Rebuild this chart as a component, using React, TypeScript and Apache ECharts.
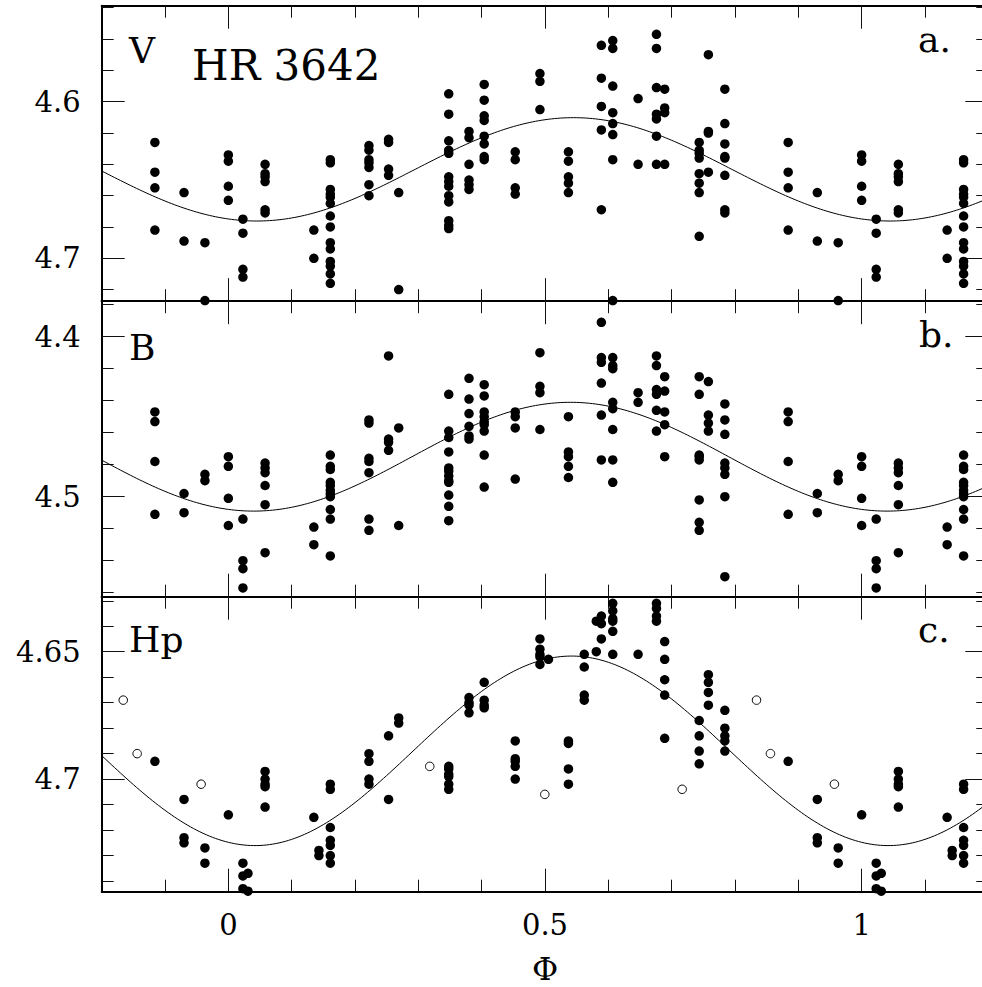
import React, { useEffect, useRef } from "react";
import * as echarts from "echarts";

// ---------------- data ----------------
// Phase columns (base phase in [0,1)) and magnitudes per column.
const vPhases = [0.0, 0.023, 0.058, 0.135, 0.161, 0.222, 0.253, 0.269, 0.348, 0.38, 0.404, 0.453, 0.492, 0.537, 0.589, 0.607, 0.647, 0.676, 0.689, 0.7435, 0.758, 0.784, 0.884, 0.93, 0.963];
const vMags = [
  [4.634, 4.638, 4.654, 4.663],
  [4.675, 4.684, 4.707, 4.712],
  [4.64, 4.646, 4.648, 4.651, 4.669, 4.671],
  [4.682, 4.7],
  [4.637, 4.639, 4.656, 4.659, 4.661, 4.665, 4.673, 4.68, 4.69, 4.694, 4.702, 4.705, 4.71, 4.716],
  [4.628, 4.631, 4.637, 4.639, 4.642, 4.653, 4.66],
  [4.624, 4.626, 4.643, 4.647],
  [4.658, 4.72],
  [4.595, 4.608, 4.625, 4.631, 4.633, 4.648, 4.651, 4.654, 4.66, 4.664, 4.676, 4.679, 4.681],
  [4.619, 4.623, 4.64, 4.65, 4.653, 4.656],
  [4.589, 4.599, 4.609, 4.612, 4.622, 4.627, 4.635, 4.637],
  [4.632, 4.637, 4.655, 4.659],
  [4.582, 4.587, 4.605],
  [4.632, 4.638, 4.648, 4.652, 4.658],
  [4.564, 4.585, 4.603, 4.618, 4.669],
  [4.561, 4.566, 4.59, 4.607, 4.614, 4.621, 4.637, 4.727],
  [4.598, 4.64],
  [4.557, 4.566, 4.591, 4.608, 4.611, 4.622, 4.64],
  [4.592, 4.604, 4.607, 4.64],
  [4.626, 4.631, 4.633, 4.636, 4.646, 4.652, 4.658, 4.686],
  [4.57, 4.619, 4.62, 4.645],
  [4.592, 4.614, 4.627, 4.635, 4.636, 4.647, 4.669, 4.671],
  [4.626, 4.645, 4.655, 4.682],
  [4.658, 4.689],
  [4.69, 4.727],
];

const bPhases = [0.0, 0.023, 0.058, 0.135, 0.161, 0.222, 0.253, 0.269, 0.348, 0.38, 0.404, 0.453, 0.492, 0.537, 0.589, 0.607, 0.647, 0.676, 0.689, 0.7435, 0.758, 0.784, 0.884, 0.93, 0.963];
const bMags = [
  [4.475, 4.481, 4.501, 4.518],
  [4.514, 4.54, 4.545, 4.557],
  [4.479, 4.482, 4.485, 4.493, 4.505, 4.535],
  [4.519, 4.53],
  [4.474, 4.481, 4.483, 4.491, 4.493, 4.496, 4.498, 4.5, 4.508, 4.514, 4.537],
  [4.452, 4.454, 4.476, 4.478, 4.485, 4.514, 4.521],
  [4.412, 4.464, 4.466, 4.471],
  [4.457, 4.518],
  [4.436, 4.459, 4.463, 4.472, 4.482, 4.484, 4.487, 4.49, 4.491, 4.499, 4.506, 4.515],
  [4.426, 4.439, 4.448, 4.456, 4.462, 4.464],
  [4.43, 4.437, 4.447, 4.45, 4.453, 4.455, 4.459, 4.474, 4.494],
  [4.447, 4.45, 4.457, 4.489],
  [4.41, 4.431, 4.435, 4.458],
  [4.45, 4.472, 4.475, 4.481, 4.488],
  [4.391, 4.413, 4.416, 4.429, 4.449, 4.477],
  [4.413, 4.418, 4.42, 4.441, 4.445, 4.458, 4.477, 4.491],
  [4.435, 4.441],
  [4.412, 4.418, 4.433, 4.436, 4.446, 4.459],
  [4.425, 4.434, 4.447, 4.455, 4.475],
  [4.425, 4.436, 4.474, 4.475, 4.477, 4.502, 4.516, 4.521],
  [4.428, 4.449, 4.454, 4.459],
  [4.442, 4.452, 4.461, 4.479, 4.482, 4.486, 4.5, 4.55],
  [4.447, 4.453, 4.478, 4.511],
  [4.498, 4.51],
  [4.486, 4.49],
];

const hpPhases = [0.0, 0.023, 0.031, 0.058, 0.135, 0.143, 0.161, 0.222, 0.253, 0.269, 0.348, 0.38, 0.404, 0.453, 0.492, 0.5055, 0.537, 0.562, 0.581, 0.589, 0.607, 0.647, 0.676, 0.689, 0.7435, 0.758, 0.784, 0.884, 0.93, 0.963];
const hpMags = [
  [4.714],
  [4.733, 4.738, 4.743],
  [4.737, 4.744],
  [4.697, 4.7, 4.702, 4.703, 4.711],
  [4.715],
  [4.728, 4.73],
  [4.702, 4.704, 4.719, 4.724, 4.726, 4.73, 4.733],
  [4.69, 4.693, 4.7, 4.702],
  [4.683, 4.708],
  [4.676, 4.678],
  [4.695, 4.696, 4.698, 4.699, 4.702, 4.704],
  [4.668, 4.67, 4.671, 4.674],
  [4.662, 4.669, 4.671, 4.672],
  [4.685, 4.692, 4.693, 4.695, 4.7],
  [4.645, 4.649, 4.651, 4.652, 4.655],
  [4.653],
  [4.685, 4.686, 4.696, 4.702],
  [4.651, 4.656, 4.667, 4.669],
  [4.638, 4.65],
  [4.636, 4.639, 4.645],
  [4.631, 4.634, 4.637, 4.638, 4.642, 4.651],
  [4.651],
  [4.631, 4.633, 4.636, 4.638],
  [4.646, 4.653, 4.661, 4.667, 4.684],
  [4.677, 4.683, 4.689, 4.694],
  [4.659, 4.662, 4.666, 4.671],
  [4.673, 4.68, 4.683, 4.685, 4.689],
  [4.693],
  [4.708, 4.723, 4.725],
  [4.727, 4.733],
];

// open circles (Hp panel)
const hpOpenPhases = [0.318, 0.4997, 0.7166, 0.834, 0.856, 0.957];
const hpOpenMags = [4.695, 4.706, 4.704, 4.669, 4.69, 4.702];

// fitted sinusoids: mean, semi-amplitude, phase of faintest point (V, B, Hp)
const fitMean = [4.6432, 4.475, 4.6889];
const fitAmp = [0.033, 0.034, 0.0372];
const fitMinPhase = [0.045, 0.04, 0.042];

// axes
const phaseRange = [-0.2, 1.2];
const xMinorTicks = [-0.1, 0.1, 0.2, 0.3, 0.4, 0.6, 0.7, 0.8, 0.9, 1.1];
const xMajorTicks = [0, 0.5, 1];
const yRanges = [
  [4.5387, 4.7274],
  [4.3778, 4.5625],
  [4.6284, 4.7442],
];
const yMinorTicks = [
  [4.54, 4.56, 4.58, 4.62, 4.64, 4.66, 4.68, 4.72],
  [4.38, 4.42, 4.44, 4.46, 4.48, 4.52, 4.54, 4.56],
  [4.63, 4.64, 4.66, 4.67, 4.68, 4.69, 4.71, 4.72, 4.73, 4.74],
];
const yMajorTicks = [
  [4.6, 4.7],
  [4.4, 4.5],
  [4.65, 4.7],
];
const bandLabels = ["V", "B", "Hp"];
const panelLetters = ["a.", "b.", "c."];
const title = "HR 3642";
const xName = "Φ";

// ---------------- layout ----------------
const FONT = "DejaVu Serif";
const CHART_W = 1000;
const CHART_H = 987;
const GRID_LEFT = 101.7;
const GRID_W = 886.6;
const gridTops = [5.7, 301.2, 596.7];
const gridHeights = [295.5, 295.5, 295.0];

function foldPoints(phases: number[], mags: number[][]) {
  const out: number[][] = [];
  phases.forEach((p, i) => {
    for (const shift of [-1, 0, 1]) {
      const x = p + shift;
      if (x < phaseRange[0] - 1e-9 || x > phaseRange[1] + 1e-9) continue;
      mags[i].forEach((m) => out.push([x, m]));
    }
  });
  return out;
}

function foldSimple(phases: number[], mags: number[]) {
  const out: number[][] = [];
  phases.forEach((p, i) => {
    for (const shift of [-1, 0, 1]) {
      const x = p + shift;
      if (x < phaseRange[0] - 1e-9 || x > phaseRange[1] + 1e-9) continue;
      out.push([x, mags[i]]);
    }
  });
  return out;
}

function fitCurve(k: number) {
  const out: number[][] = [];
  for (let i = 0; i <= 280; i++) {
    const x = phaseRange[0] + (i * (phaseRange[1] - phaseRange[0])) / 280;
    out.push([x, fitMean[k] + fitAmp[k] * Math.cos(2 * Math.PI * (x - fitMinPhase[k]))]);
  }
  return out;
}

function buildOption() {
  const grid: any[] = [];
  const xAxis: any[] = [];
  const yAxis: any[] = [];
  const series: any[] = [];
  const lineStyle = { color: "#000", width: 2 };
  const tickStyle = { color: "#111", width: 1 };

  for (let g = 0; g < 3; g++) {
    grid.push({ left: GRID_LEFT, top: gridTops[g], width: GRID_W, height: gridHeights[g] });
    const isBottom = g === 2;
    for (const pos of ["bottom", "top"]) {
      for (const major of [false, true]) {
        const showLab = isBottom && pos === "bottom" && major;
        xAxis.push({
          type: "value",
          gridIndex: g,
          position: pos,
          min: phaseRange[0],
          max: phaseRange[1],
          axisLine: { show: !major, onZero: false, lineStyle },
          axisTick: {
            show: true,
            inside: true,
            length: major ? 23 : 12,
            customValues: major ? xMajorTicks : xMinorTicks,
            lineStyle: tickStyle,
          },
          splitLine: { show: false },
          axisLabel: showLab
            ? {
                show: true,
                customValues: xMajorTicks,
                margin: 19,
                fontFamily: FONT,
                fontSize: 29,
                color: "#000",
                formatter: (v: number) => String(v),
              }
            : { show: false },
          name: showLab ? xName : "",
          nameLocation: "middle",
          nameGap: 61,
          nameTextStyle: { fontFamily: FONT, fontSize: 32, color: "#000" },
        });
      }
    }
    for (const pos of ["left", "right"]) {
      for (const major of [false, true]) {
        const showLab = pos === "left" && major;
        yAxis.push({
          type: "value",
          gridIndex: g,
          position: pos,
          inverse: true,
          min: yRanges[g][0],
          max: yRanges[g][1],
          axisLine: { show: !major, onZero: false, lineStyle },
          axisTick: {
            show: true,
            inside: true,
            length: major ? 23 : 12,
            customValues: major ? yMajorTicks[g] : yMinorTicks[g],
            lineStyle: tickStyle,
          },
          splitLine: { show: false },
          axisLabel: showLab
            ? {
                show: true,
                customValues: yMajorTicks[g],
                margin: 21,
                fontFamily: FONT,
                fontSize: 29,
                color: "#000",
                formatter: (v: number) => String(v),
              }
            : { show: false },
        });
      }
    }
  }

  const sets = [
    [vPhases, vMags],
    [bPhases, bMags],
    [hpPhases, hpMags],
  ] as [number[], number[][]][];

  sets.forEach(([ph, mg], g) => {
    series.push({
      type: "line",
      xAxisIndex: g * 4,
      yAxisIndex: g * 4,
      data: fitCurve(g),
      showSymbol: false,
      symbol: "none",
      lineStyle: { color: "#000", width: 1 },
      silent: true,
      z: 3,
    });
    series.push({
      type: "scatter",
      xAxisIndex: g * 4,
      yAxisIndex: g * 4,
      data: foldPoints(ph, mg),
      symbol: "circle",
      symbolSize: 9.5,
      itemStyle: { color: "#000", opacity: 1 },
      clip: false,
      silent: true,
      z: 4,
    });
  });

  series.push({
    type: "scatter",
    xAxisIndex: 8,
    yAxisIndex: 8,
    data: foldSimple(hpOpenPhases, hpOpenMags),
    symbol: "circle",
    symbolSize: 8.5,
    itemStyle: { color: "#fff", borderColor: "#000", borderWidth: 1, opacity: 1 },
    clip: false,
    silent: true,
    z: 4,
  });

  const txt = (text: string, x: number, y: number, size: number, align = "left") => ({
    type: "text",
    x,
    y,
    silent: true,
    style: {
      text,
      fontFamily: FONT,
      fontSize: size,
      fill: "#000",
      align,
      verticalAlign: "middle",
    },
  });

  const graphic = [
    txt(bandLabels[0], 129, 50, 36),
    txt(title, 192, 65, 42),
    txt(panelLetters[0], 918, 39, 36),
    txt(bandLabels[1], 129, 347, 36),
    txt(panelLetters[1], 919, 334, 36),
    txt(bandLabels[2], 129, 639, 36),
    txt(panelLetters[2], 918, 629, 36),
  ];

  return {
    animation: false,
    backgroundColor: "#fff",
    grid,
    xAxis,
    yAxis,
    series,
    graphic,
  };
}

export default function App() {
  const ref = useRef<HTMLDivElement>(null);
  useEffect(() => {
    if (!ref.current) return;
    const chart = echarts.init(ref.current, null, { renderer: "svg" });
    chart.setOption(buildOption() as any);
    return () => chart.dispose();
  }, []);
  return (
    <div
      style={{
        position: "fixed",
        left: 0,
        top: 0,
        width: 982,
        height: 987,
        overflow: "hidden",
        background: "#fff",
      }}
    >
      <div ref={ref} style={{ width: CHART_W, height: CHART_H }} />
    </div>
  );
}
